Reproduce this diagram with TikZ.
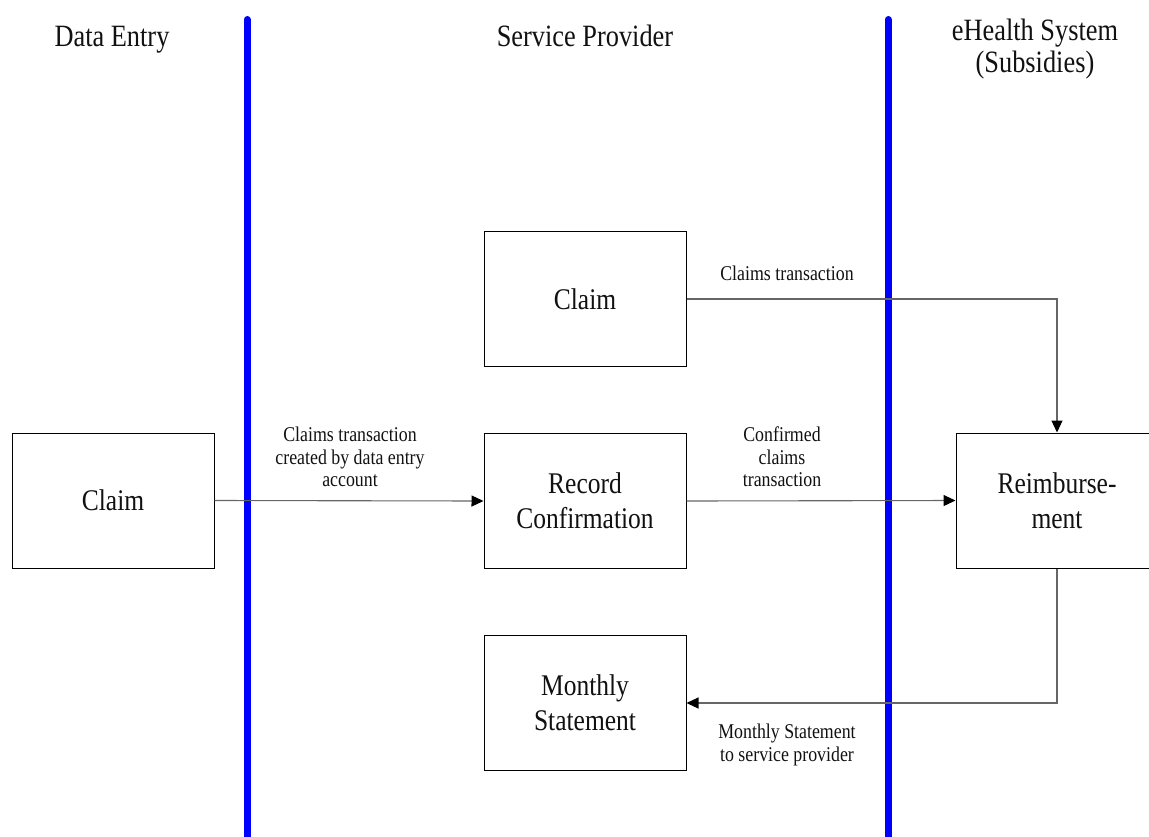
\documentclass[tikz,border=0pt]{standalone}
\usepackage{fontspec}
\setmainfont[FakeStretch=0.85]{Liberation Serif}
\usetikzlibrary{positioning, arrows.meta}
\definecolor{clrlane}{HTML}{0000FF}
\definecolor{clrborder}{HTML}{000000}
\definecolor{clrlink}{HTML}{666666}
\definecolor{clrtext}{HTML}{111111}

\begin{document}
\begin{tikzpicture}[
    x=1pt, y=-1pt,
    >={Triangle[length=12pt, width=11pt, color=black]},
    every node/.style={text=clrtext},
    block/.style={draw=clrborder, line width=1pt, minimum width=202pt,
                  minimum height=135pt, align=center, inner sep=0pt,
                  font=\fontsize{30}{35}\selectfont},
    lane/.style={line width=7pt, color=clrlane, line cap=round},
    arrow/.style={->, color=clrlink, line width=1.1pt},
    header/.style={font=\fontsize{31}{32}\selectfont, align=center, anchor=base},
    flowlabel/.style={font=\fontsize{21}{22.5}\selectfont, align=center, inner sep=0pt},
]
\useasboundingbox (0,0) rectangle (1149,836);
% swim lanes
\draw[lane] (247,19.5) -- (247,845);
\draw[lane] (888,19.5) -- (888,845);
\node[header] (h_entry) at (112,46) {Data Entry};
\node[header] (h_provider) at (585,46) {Service Provider};
\node[header, anchor=center] (h_ehealth) at (1035,49) {eHealth System\\(Subsidies)};
% boxes
\node[block] (n_entryclaim) at (113,500.5) {Claim};
\node[block] (n_claim) at (585,299) {Claim};
\node[block] (n_record) at (585,501) {Record\\Confirmation};
\node[block] (n_monthly) at (585,703) {Monthly\\Statement};
\node[block] (n_reimb) at (1057,500.5) {Reimburse-\\ment};
% connectors
\draw[arrow] (n_entryclaim.east) -- (n_record.west);
\draw[arrow] (n_claim.east) -| (n_reimb.north);
\draw[arrow] (n_record.east) -- (n_reimb.west);
\draw[arrow] (n_reimb.south) |- (n_monthly.east);
\node[flowlabel] (l_created) at (350,457) {Claims transaction\\created by data entry\\account};
\node[flowlabel] (l_claims) at (787,273) {Claims transaction};
\node[flowlabel] (l_confirmed) at (782,457) {Confirmed\\claims\\transaction};
\node[flowlabel] (l_statement) at (787,745) {Monthly Statement\\to service provider};
\end{tikzpicture}
\end{document}
